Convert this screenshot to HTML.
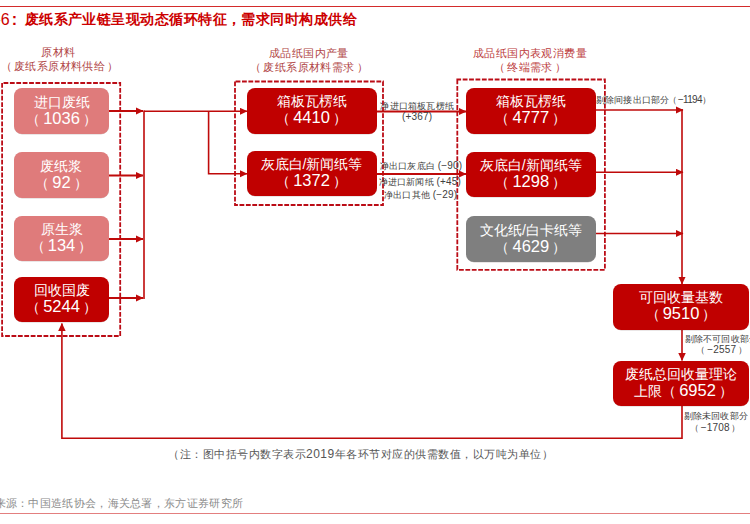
<!DOCTYPE html>
<html><head><meta charset="utf-8">
<style>
html,body{margin:0;padding:0;}
body{width:750px;height:524px;position:relative;overflow:hidden;background:#fff;font-family:"Liberation Sans",sans-serif;}
.a{position:absolute;white-space:nowrap;}
.box{position:absolute;box-sizing:border-box;padding-bottom:0.8px;border-radius:8px;box-shadow:0 0.4px 0.5px rgba(40,0,0,0.2);color:#fff;text-align:center;font-size:14px;line-height:17px;display:flex;justify-content:center;align-items:center;}
.pk{background:#df7b7b;}
.rd{background:#c00000;}
.gy{background:#7f7f7f;}
.n{font-size:16.5px;padding:0 3px;line-height:10px;}
.hd{position:absolute;color:#b04444;font-size:11px;letter-spacing:0.4px;line-height:14px;text-align:center;white-space:nowrap;}
.hd .p{padding:0 2px;}
.lb{position:absolute;color:#404040;font-size:9px;letter-spacing:0.2px;line-height:10px;white-space:nowrap;}
.ln{font-size:10px;}
svg{position:absolute;left:0;top:0;}
</style></head><body>
<svg width="750" height="524" viewBox="0 0 750 524">
  <defs>
    <marker id="ar" markerWidth="8" markerHeight="8" refX="7.5" refY="3.75" orient="auto" markerUnits="userSpaceOnUse">
      <path d="M0,0 L8,3.75 L0,7.5 Z" fill="#bf0a0a"/>
    </marker>
  </defs>
  <rect x="0" y="6" width="750" height="1" fill="#d32b2b"/>
  <rect x="0" y="513" width="750" height="1" fill="#e37f7f"/>
  <g fill="none" stroke="#bb0c16" stroke-width="1.8" stroke-dasharray="4.8 1.6">
    <path d="M2.1,83.0 V336.0 H120.2 V83.0 Z"/>
    <path d="M235.0,81.5 V205.0 H383.0 V81.5 Z"/>
    <path d="M457.3,79.5 V269.8 H604.9 V79.5 Z"/>
  </g>
  <g stroke="#bf0a0a" fill="none">
    <line x1="109" y1="111" x2="143" y2="111" stroke-width="2" marker-end="url(#ar)"/>
    <line x1="109" y1="175.6" x2="143" y2="175.6" stroke-width="2" marker-end="url(#ar)"/>
    <line x1="109" y1="239" x2="143" y2="239" stroke-width="2" marker-end="url(#ar)"/>
    <line x1="109" y1="298" x2="143" y2="298" stroke-width="2" marker-end="url(#ar)"/>
    <line x1="144" y1="110.5" x2="144" y2="299" stroke-width="1.6"/>
    <line x1="144" y1="111.3" x2="247" y2="111.3" stroke-width="1.6" marker-end="url(#ar)"/>
    <polyline points="208.6,111.3 208.6,173.8 247,173.8" stroke-width="1.6" marker-end="url(#ar)"/>
    <line x1="376" y1="111.5" x2="466" y2="111.5" stroke-width="1.8" marker-end="url(#ar)"/>
    <line x1="376" y1="174" x2="466" y2="174" stroke-width="1.8" marker-end="url(#ar)"/>
    <line x1="595" y1="110" x2="683" y2="110" stroke-width="1.6" marker-end="url(#ar)"/>
    <line x1="595" y1="172.3" x2="683" y2="172.3" stroke-width="1.6" marker-end="url(#ar)"/>
    <line x1="595" y1="233.5" x2="683" y2="233.5" stroke-width="1.6" marker-end="url(#ar)"/>
    <line x1="682" y1="109.2" x2="682" y2="284" stroke-width="1.6" marker-end="url(#ar)"/>
    <line x1="682" y1="329" x2="682" y2="360.5" stroke-width="1.6" marker-end="url(#ar)"/>
    <polyline points="682,405 682,438.2 61.9,438.2 61.9,323.5" stroke-width="1.6" marker-end="url(#ar)"/>
  </g>
</svg>

<div class="a" style="left:-4.5px;top:10.5px;font-size:16px;color:#cc0000;line-height:18px;">-6<span style="margin-left:2px;font-weight:bold">:</span></div>
<div class="a" style="left:24.7px;top:10px;font-size:14px;letter-spacing:0.45px;font-weight:bold;color:#cc0000;line-height:18px;">废纸系产业链呈现动态循环特征，需求同时构成供给</div>

<div class="hd" style="left:-1.5px;width:120px;top:45px;">原材料<br><span class="p">（</span>废纸系原材料供给<span class="p">）</span></div>
<div class="hd" style="left:229px;width:160px;top:45.5px;">成品纸国内产量<br><span class="p">（</span>废纸系原材料需求<span class="p">）</span></div>
<div class="hd" style="left:450px;width:160px;top:45.5px;color:#bc3c3c;">成品纸国内表观消费量<br><span class="p">（</span>终端需求<span class="p">）</span></div>

<div class="box pk" style="left:14px;top:88px;width:95px;height:46px;"><div>进口废纸<br>（<span class="n">1036</span>）</div></div>
<div class="box pk" style="left:14px;top:152px;width:95px;height:46px;"><div>废纸浆<br>（<span class="n">92</span>）</div></div>
<div class="box pk" style="left:14px;top:216px;width:95px;height:45px;"><div>原生浆<br>（<span class="n">134</span>）</div></div>
<div class="box rd" style="left:14px;top:277px;width:95px;height:45px;"><div>回收国废<br>（<span class="n">5244</span>）</div></div>

<div class="box rd" style="left:246.5px;top:88px;width:130px;height:45.5px;"><div>箱板瓦楞纸<br>（<span class="n">4410</span>）</div></div>
<div class="box rd" style="left:246.5px;top:150.8px;width:130px;height:45.2px;"><div>灰底白/新闻纸等<br>（<span class="n">1372</span>）</div></div>

<div class="box rd" style="left:466px;top:88px;width:129.6px;height:45.5px;"><div>箱板瓦楞纸<br>（<span class="n">4777</span>）</div></div>
<div class="box rd" style="left:466px;top:151.5px;width:129.6px;height:45px;"><div>灰底白/新闻纸等<br>（<span class="n">1298</span>）</div></div>
<div class="box gy" style="left:466px;top:216.3px;width:129.7px;height:45.7px;"><div>文化纸/白卡纸等<br>（<span class="n">4629</span>）</div></div>

<div class="box rd" style="left:613px;top:284px;width:136px;height:45.5px;"><div>可回收量基数<br>（<span class="n">9510</span>）</div></div>
<div class="box rd" style="left:613px;top:360.5px;width:136px;height:45px;"><div>废纸总回收量理论<br><span style="position:relative;left:2.5px">上限（<span class="n">6952</span>）</span></div></div>

<div class="lb" style="left:380.4px;top:101px;">净进口箱板瓦楞纸</div>
<div class="lb" style="left:402px;top:111.5px;"><span class="ln">(+367)</span></div>
<div class="lb" style="left:379.8px;top:161px;">净出口灰底白 <span class="ln">(−90)</span></div>
<div class="lb" style="left:378.6px;top:176.5px;">净进口新闻纸 <span class="ln">(+45)</span></div>
<div class="lb" style="left:384px;top:190px;">净出口其他 <span class="ln">(−29)</span></div>
<div class="lb" style="left:595.9px;top:94.5px;">剔除间接出口部分<span style="margin-left:-1.8px">（</span><span class="ln" style="letter-spacing:-0.7px;margin-left:1px">−1194</span>）</div>
<div class="lb" style="left:684.7px;top:334px;">剔除不可回收部分</div>
<div class="lb" style="left:695.5px;top:345.3px;">（<span class="ln" style="padding:0 2px 0 2.5px">−2557</span>）</div>
<div class="lb" style="left:683.6px;top:411px;">剔除未回收部分</div>
<div class="lb" style="left:690px;top:422.5px;">（<span class="ln" style="padding:0 1px 0 1.5px">−1708</span>）</div>

<div class="a" style="left:168px;top:447px;font-size:11px;letter-spacing:0.5px;color:#555;line-height:14px;">（注：图中括号内数字表示<span style="font-size:12px">2019</span>年各环节对应的供需数值，以万吨为单位）</div>
<div class="a" style="left:-28px;top:496px;font-size:11px;letter-spacing:0.3px;color:#8a8a8a;line-height:14px;">资料来源：中国造纸协会，海关总署，东方证券研究所</div>
</body></html>
